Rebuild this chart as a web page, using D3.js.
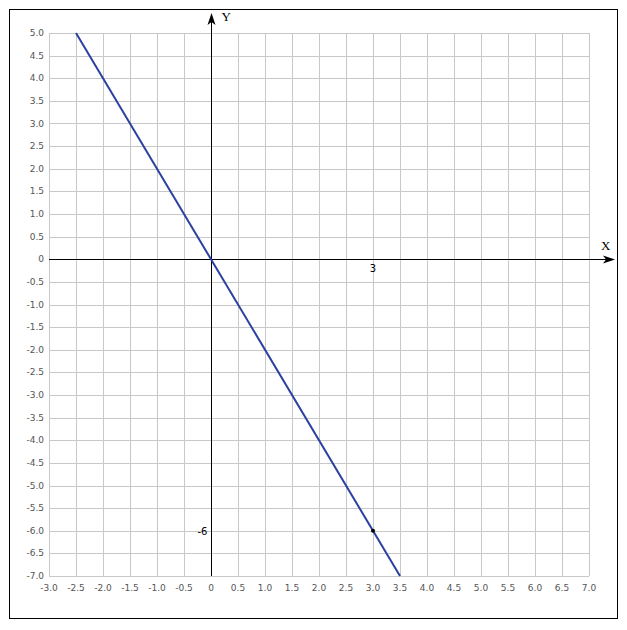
<!DOCTYPE html>
<html>
<head>
<meta charset="utf-8">
<script src="https://d3js.org/d3.v7.min.js"></script>
<style>
  body { margin: 0; background: #fff; }
  text { font-family: "DejaVu Sans", Verdana, sans-serif; }
</style>
</head>
<body>
<div id="chart"></div>
<script>
// data
var lineX = [-2.5, 3.5];
var lineY = [5, -7];
var markX = [3];
var markY = [-6];
var xTicks = d3.range(-3, 7.001, 0.5);
var yTicks = d3.range(-7, 5.001, 0.5);

var svgWidth = 627;
var svgHeight = 630;

var margin = { top: 33, left: 49 };
var width = 540;
var height = 543;

var svg = d3.select("#chart")
  .append("svg")
  .attr("width", svgWidth)
  .attr("height", svgHeight);

// outer frame
svg.append("rect")
  .attr("x", 9.5).attr("y", 9.5)
  .attr("width", 608).attr("height", 609)
  .attr("fill", "none")
  .attr("stroke", "#000")
  .attr("stroke-width", 1);

var chartGroup = svg.append("g")
  .attr("transform", `translate(${margin.left}, ${margin.top})`);

var xScale = d3.scaleLinear().domain([-3, 7]).range([0, width]);
var yScale = d3.scaleLinear().domain([-7, 5]).range([height, 0]);

// grid
chartGroup.append("g").selectAll("line")
  .data(xTicks)
  .enter()
  .append("line")
  .attr("x1", d => Math.round(xScale(d)) + 0.5)
  .attr("x2", d => Math.round(xScale(d)) + 0.5)
  .attr("y1", 0)
  .attr("y2", height)
  .attr("stroke", "#c8c8c8");

chartGroup.append("g").selectAll("line")
  .data(yTicks)
  .enter()
  .append("line")
  .attr("x1", 0)
  .attr("x2", width)
  .attr("y1", d => Math.round(yScale(d)) + 0.5)
  .attr("y2", d => Math.round(yScale(d)) + 0.5)
  .attr("stroke", "#c8c8c8");

function fmt(d) {
  return Math.abs(d) < 1e-9 ? "0" : d.toFixed(1);
}

// tick labels
chartGroup.append("g").selectAll("text")
  .data(xTicks)
  .enter()
  .append("text")
  .attr("x", d => xScale(d))
  .attr("y", height + 15)
  .attr("text-anchor", "middle")
  .attr("font-size", 9)
  .attr("fill", "#555")
  .text(fmt);

chartGroup.append("g").selectAll("text")
  .data(yTicks)
  .enter()
  .append("text")
  .attr("x", -5)
  .attr("y", d => yScale(d) + 3)
  .attr("text-anchor", "end")
  .attr("font-size", 9)
  .attr("fill", "#555")
  .text(fmt);

// axes with arrows
var x0 = Math.round(xScale(0)) + 0.5;
var y0 = Math.round(yScale(0)) + 0.5;

chartGroup.append("line")
  .attr("x1", 0).attr("x2", 558)
  .attr("y1", y0).attr("y2", y0)
  .attr("stroke", "#000");
chartGroup.append("path")
  .attr("d", `M566,${y0} L554,${y0 - 4} L557,${y0} L554,${y0 + 4} Z`)
  .attr("fill", "#000");

chartGroup.append("line")
  .attr("x1", x0).attr("x2", x0)
  .attr("y1", height).attr("y2", -12)
  .attr("stroke", "#000");
chartGroup.append("path")
  .attr("d", `M${x0},-20 L${x0 - 4},-8 L${x0},-11 L${x0 + 4},-8 Z`)
  .attr("fill", "#000");

chartGroup.append("text")
  .attr("x", x0 + 10).attr("y", -12)
  .style("font-family", "'Liberation Serif', 'DejaVu Serif', serif")
  .style("font-size", "13px")
  .text("Y");
chartGroup.append("text")
  .attr("x", 552).attr("y", y0 - 10)
  .style("font-family", "'Liberation Serif', 'DejaVu Serif', serif")
  .style("font-size", "13px")
  .text("X");

// the line y = -2x
var line = d3.line()
  .x(d => xScale(d[0]))
  .y(d => yScale(d[1]));

chartGroup.append("path")
  .datum(lineX.map((d, i) => [d, lineY[i]]))
  .attr("d", line)
  .attr("fill", "none")
  .attr("stroke", "#2a41a0")
  .attr("stroke-width", 2);

// marked point
chartGroup.selectAll(".mark")
  .data(markX)
  .enter()
  .append("circle")
  .attr("cx", d => xScale(d))
  .attr("cy", (d, i) => yScale(markY[i]))
  .attr("r", 2)
  .attr("fill", "#000");

chartGroup.append("text")
  .attr("x", xScale(markX[0]))
  .attr("y", y0 + 12)
  .attr("text-anchor", "middle")
  .attr("font-size", 10)
  .text(markX[0]);

chartGroup.append("text")
  .attr("x", x0 - 4)
  .attr("y", yScale(markY[0]) + 4)
  .attr("text-anchor", "end")
  .attr("font-size", 10)
  .text(markY[0]);
</script>
</body>
</html>
